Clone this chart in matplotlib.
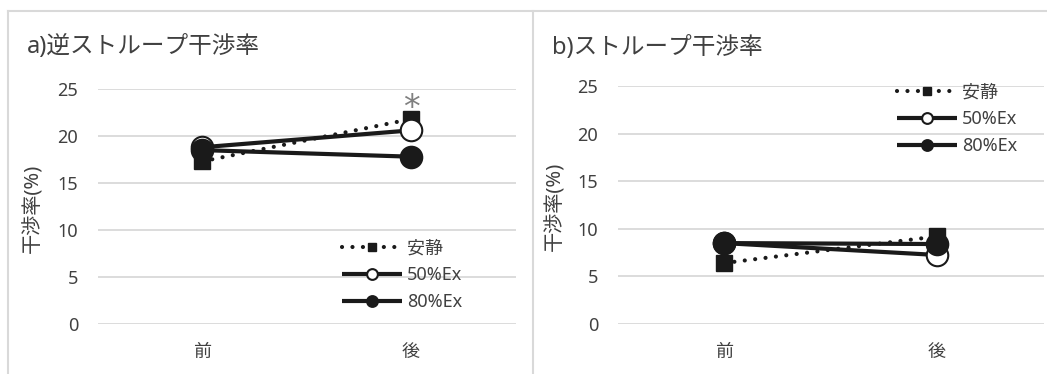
import matplotlib
matplotlib.use("Agg")
import matplotlib.pyplot as plt
from matplotlib.lines import Line2D

plt.rcParams['font.family'] = ['Noto Sans', 'Noto Sans CJK JP', 'DejaVu Sans']

# Data
phases = ["前", "後"]
series_names = ["安静", "50%Ex", "80%Ex"]
reverse_stroop = {
    "安静": [17.3, 21.8],
    "50%Ex": [18.8, 20.6],
    "80%Ex": [18.5, 17.8],
}
stroop = {
    "安静": [6.4, 9.2],
    "50%Ex": [8.5, 7.25],
    "80%Ex": [8.5, 8.4],
}
yticks = [0, 5, 10, 15, 20, 25]

TEXT = "#404040"
GRID = "#d9d9d9"
W, H = 1047, 374

styles = {
    "安静": dict(color="#1a1a1a", lw=3.0, linestyle=(0, (0.01, 2.5)),
               dash_capstyle="round", marker="s", ms=11.5,
               mfc="#1a1a1a", mec="#1a1a1a", mew=1.0),
    "50%Ex": dict(color="#1a1a1a", lw=3.0, linestyle="-",
                  marker="o", ms=15.5, mfc="white", mec="#1a1a1a", mew=1.5),
    "80%Ex": dict(color="#1a1a1a", lw=3.0, linestyle="-",
                  marker="o", ms=15.5, mfc="#1a1a1a", mec="#1a1a1a", mew=1.5),
}


def draw_panel(ax, data, legend_anchor):
    x = list(range(len(phases)))
    handles = []
    for name in series_names:
        h, = ax.plot(x, data[name], label=name, zorder=3,
                     solid_capstyle="butt", **styles[name])
        handles.append(h)
    ax.set_xlim(-0.5, len(phases) - 0.5)
    ax.set_ylim(0, 25)
    ax.set_yticks(yticks)
    ax.set_xticks(x)
    ax.set_xticklabels(phases)
    ax.yaxis.grid(True, color=GRID, lw=1.3)
    ax.set_axisbelow(True)
    for s in ax.spines.values():
        s.set_visible(False)
    ax.tick_params(axis="both", length=0, colors=TEXT, labelsize=13)
    ax.tick_params(axis="y", pad=14)
    ax.tick_params(axis="x", pad=14)
    ax.set_facecolor("none")
    leg = ax.legend(handles=handles, loc="upper left",
                    bbox_to_anchor=legend_anchor, frameon=False,
                    fontsize=13, handlelength=3.3, handletextpad=0.3,
                    labelspacing=0.5, markerscale=0.5, borderpad=0,
                    borderaxespad=0)
    for t in leg.get_texts():
        t.set_color(TEXT)
    return ax


fig = plt.figure(figsize=(W / 100, H / 100), dpi=100)

# Panel frames
for artist in [
    Line2D([8 / W, 8 / W], [0, 1 - 11 / H]),
    Line2D([533 / W, 533 / W], [0, 1 - 11 / H]),
    Line2D([8 / W, 1], [1 - 11 / H, 1 - 11 / H]),
]:
    artist.set_color(GRID)
    artist.set_linewidth(1.5)
    fig.add_artist(artist)

axL = fig.add_axes([97.5 / W, 50 / H, 418 / W, 235 / H])
axR = fig.add_axes([617.5 / W, 50 / H, 426 / W, 238 / H])

draw_panel(axL, reverse_stroop, (0.585, 0.36))
draw_panel(axR, stroop, (0.656, 1.012))

# Significance mark above the resting value after
axL.annotate("*", xy=(1, reverse_stroop["安静"][1]), xytext=(0, -4),
             textcoords="offset points", ha="center", va="bottom",
             fontsize=24, color="#808080", family="DejaVu Sans")

# Panel titles and axis labels
fig.text(27 / W, 1 - 47 / H, "a)逆ストループ干渉率", fontsize=17,
         color=TEXT, va="center", ha="left")
fig.text(552 / W, 1 - 48 / H, "b)ストループ干渉率", fontsize=17,
         color=TEXT, va="center", ha="left")
fig.text(33 / W, 1 - 208 / H, "干渉率(%)", fontsize=14.5, color=TEXT,
         rotation=90, va="center", ha="center")
fig.text(555 / W, 1 - 206 / H, "干渉率(%)", fontsize=14.5, color=TEXT,
         rotation=90, va="center", ha="center")

fig.savefig("out.png", dpi=100)
